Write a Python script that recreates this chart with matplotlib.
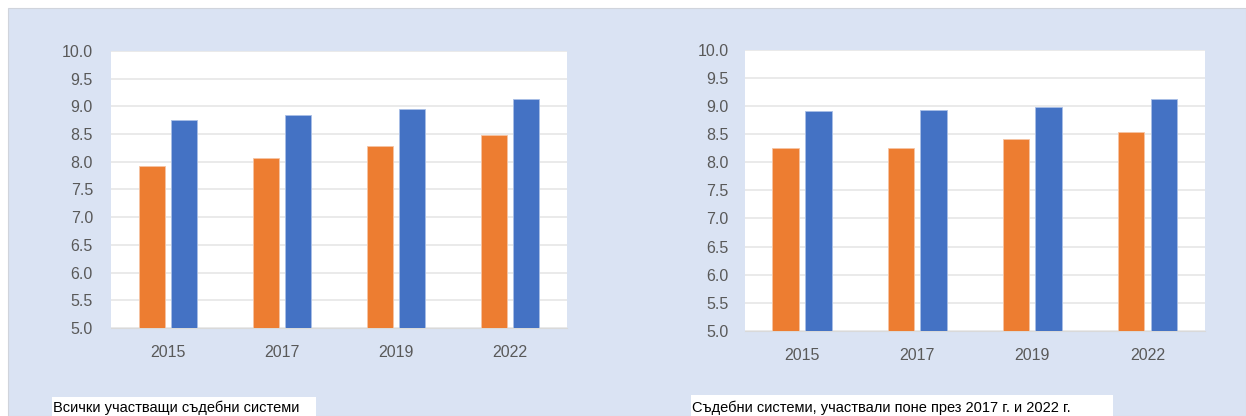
import matplotlib
matplotlib.use('Agg')
import matplotlib.pyplot as plt
from matplotlib.patches import Rectangle
import numpy as np

plt.rcParams['font.family'] = ['Liberation Sans', 'DejaVu Sans']

years = ['2015', '2017', '2019', '2022']
all_orange = [7.93, 8.06, 8.28, 8.48]
all_blue = [8.75, 8.84, 8.95, 9.13]
sub_orange = [8.25, 8.26, 8.41, 8.53]
sub_blue = [8.91, 8.92, 8.99, 9.12]
captions = ['Всички участващи съдебни системи',
            'Съдебни системи, участвали поне през 2017 г. и 2022 г.']

W, H = 1246, 416
fig = plt.figure(figsize=(W / 100, H / 100), dpi=100)
fig.patch.set_facecolor('white')

def px(x0, y0, x1, y1):
    # pixel box (top-left origin) -> figure fraction rect
    return [x0 / W, (H - y1) / H, (x1 - x0) / W, (y1 - y0) / H]

# light blue panel
fig.patches.append(Rectangle((8 / W, 0), 1 - 8 / W, (H - 8) / H,
                             transform=fig.transFigure, facecolor='#dae3f3',
                             edgecolor='#d0d4dc', linewidth=0.8, zorder=-10))

def draw(box, orange, blue, pad):
    ax = fig.add_axes(px(*box))
    ax.set_zorder(5)
    ax.set_facecolor('white')
    x = np.arange(len(years))
    w = 0.23
    ax.bar(x - 0.142, np.array(orange) - 5, w, bottom=5, color='#ed7d31',
           edgecolor='#f6c4a4', linewidth=0.6, zorder=3)
    ax.bar(x + 0.142, np.array(blue) - 5, w, bottom=5, color='#4472c4',
           edgecolor='#a9bfe6', linewidth=0.6, zorder=3)
    ax.set_xlim(-0.5, len(years) - 0.5)
    ax.set_ylim(5, 10)
    ax.set_yticks(np.arange(5, 10.01, 0.5))
    ax.set_yticklabels([f'{v:.1f}' for v in np.arange(5, 10.01, 0.5)])
    ax.set_xticks(x)
    ax.set_xticklabels(years)
    ax.grid(axis='y', color='#e6e6e6', linewidth=1.2, zorder=0)
    ax.set_axisbelow(True)
    for s in ['top', 'right', 'left']:
        ax.spines[s].set_visible(False)
    ax.spines['bottom'].set_color('#d9d9d9')
    ax.tick_params(length=0, labelsize=11.5, colors='#595959')
    ax.tick_params(axis='y', pad=pad)
    ax.tick_params(axis='x', pad=12)
    return ax

draw((111, 51, 567, 328), all_orange, all_blue, 13)
draw((744.5, 49.7, 1205, 331), sub_orange, sub_blue, 11.5)

# caption boxes
for (x0, y0, x1), txt in zip([(52, 397, 316), (691, 395, 1113)], captions):
    fig.patches.append(Rectangle((x0 / W, 0), (x1 - x0) / W, (H - y0) / H,
                                 transform=fig.transFigure, facecolor='white',
                                 edgecolor='none', zorder=-5))
    fig.text((x0 + 1) / W, (H - 412) / H, txt, fontsize=10.5, color='black',
             va='baseline', ha='left')

fig.savefig('out.png', dpi=100)
